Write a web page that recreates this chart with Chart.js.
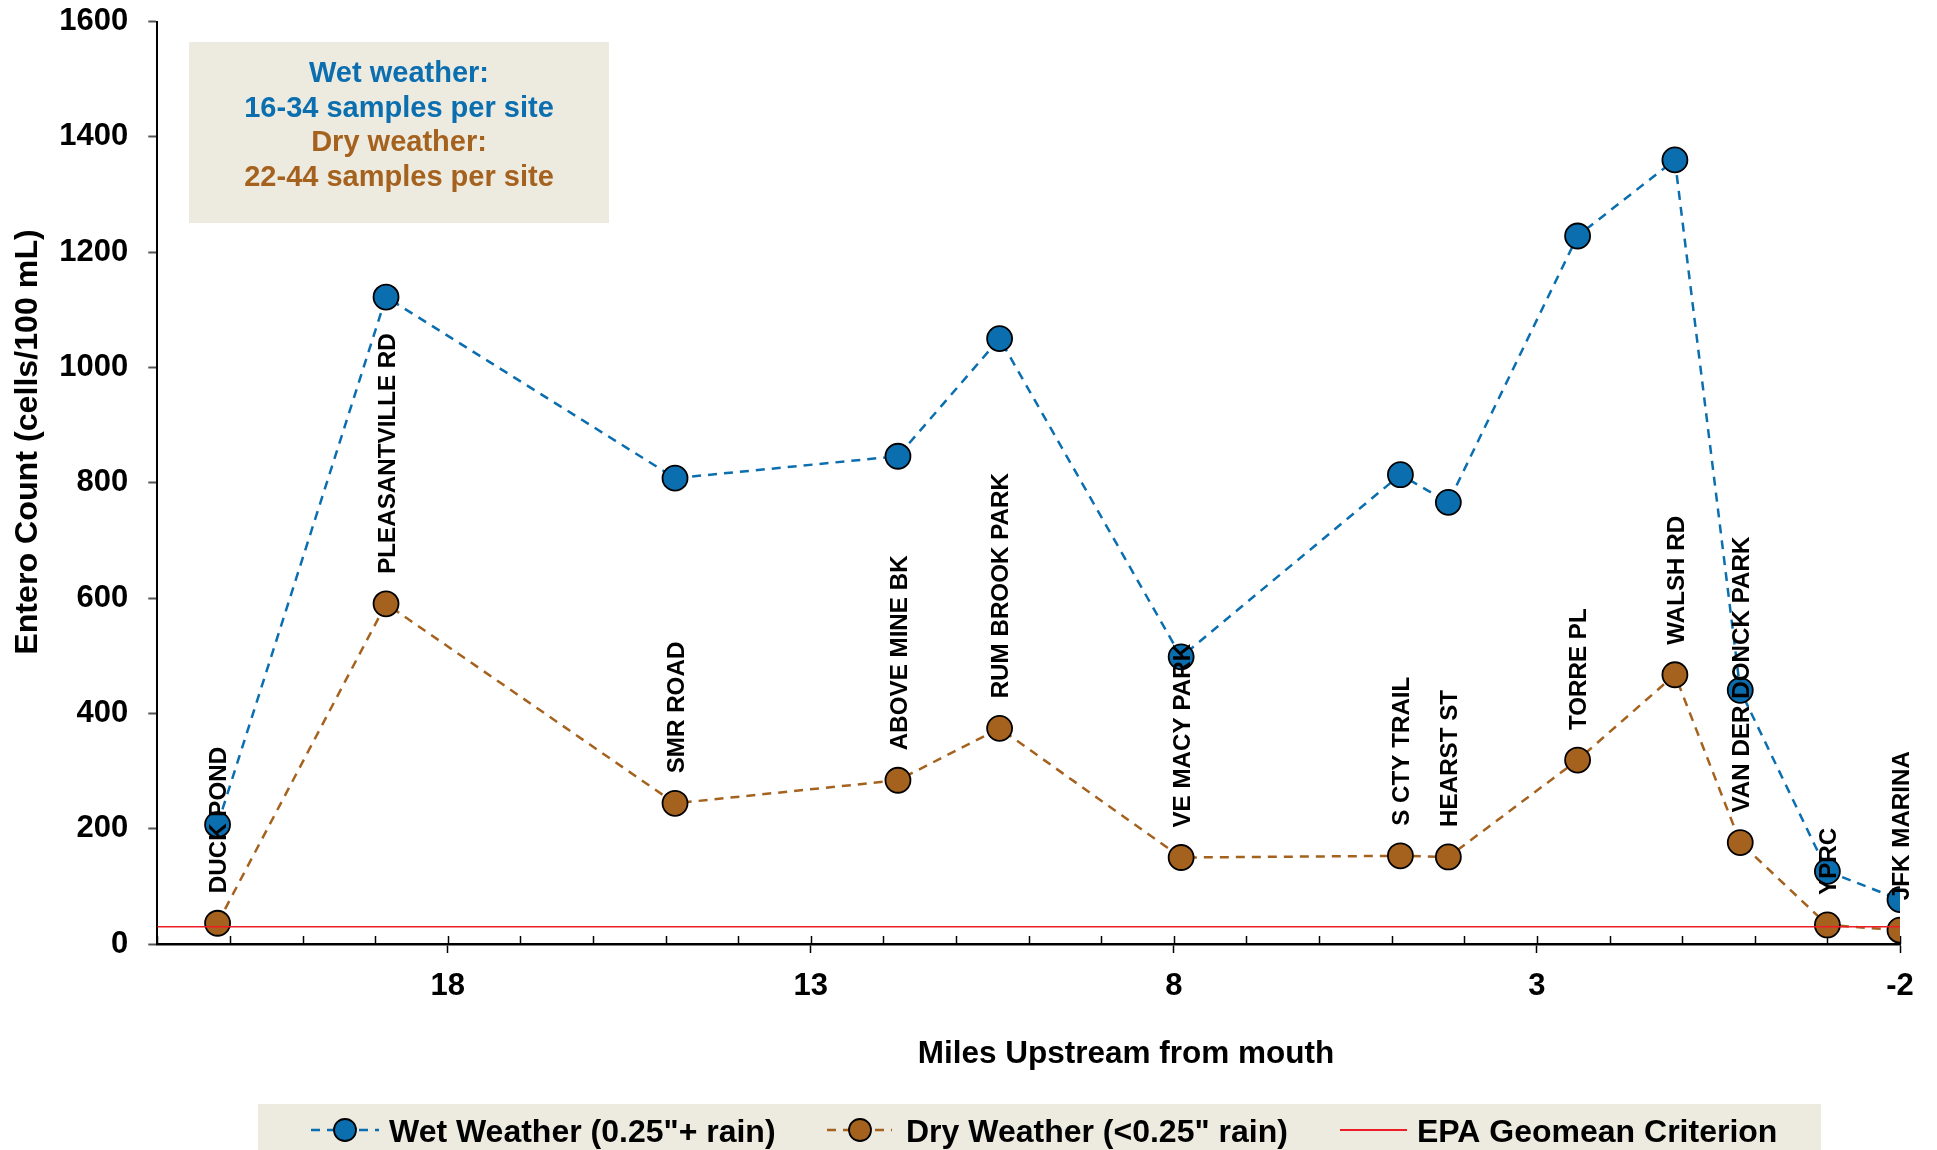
<!DOCTYPE html>
<html>
<head>
<meta charset="utf-8">
<script src="https://cdn.jsdelivr.net/npm/chart.js@4.4.1/dist/chart.umd.min.js"></script>
<style>
html,body{margin:0;padding:0;background:#ffffff;}
#wrap{width:1937px;height:1150px;position:relative;}
</style>
</head>
<body>
<div id="wrap"><canvas id="c"></canvas></div>
<script>
// ---------------- data ----------------
const siteNames = ['DUCK POND','PLEASANTVILLE RD','SMR ROAD','ABOVE MINE BK','RUM BROOK PARK','VE MACY PARK','S CTY TRAIL','HEARST ST','TORRE PL','WALSH RD','VAN DER DONCK PARK','YPRC','JFK MARINA'];
const siteMiles = [21.17, 18.85, 14.87, 11.8, 10.4, 7.9, 4.88, 4.22, 2.44, 1.1, 0.2, -1.0, -2.0];
const wetValues = [207, 1122, 808, 846, 1050, 498, 814, 766, 1228, 1360, 440, 126, 77];
const dryValues = [36, 590, 244, 284, 374, 150, 153, 151, 319, 467, 176, 33, 24];
const epaCriterion = 30;
const xMajorTicks = [18, 13, 8, 3, -2];
const xRange = [-2, 22];
const yRange = [0, 1600];
const yStep = 200;
const seriesLabels = ['Wet Weather (0.25"+ rain)', 'Dry Weather (<0.25" rain)', 'EPA Geomean Criterion'];
const noteLines = ['Wet weather:', '16-34 samples per site', 'Dry weather:', '22-44 samples per site'];
const xTitle = 'Miles Upstream from mouth';
const yTitle = 'Entero Count (cells/100 mL)';

// ---------------- styles ----------------
const FONT = "'Liberation Sans', Arial, Helvetica, sans-serif";
const BLUE = '#0B6EAF';
const BROWN = '#A5621E';
const RED = '#EE1C25';
const BEIGE = '#EDEAE0';

const wetPts = siteMiles.map((m, i) => ({x: m, y: wetValues[i]}));
const dryPts = siteMiles.map((m, i) => ({x: m, y: dryValues[i]}));
const epaPts = [{x: xRange[1], y: epaCriterion}, {x: xRange[0], y: epaCriterion}];

const overlay = {
  id: 'overlay',
  beforeDatasetsDraw(chart) {
    const ctx = chart.ctx;
    ctx.save();
    // note box
    ctx.fillStyle = BEIGE;
    ctx.fillRect(189, 42, 420, 181);
    ctx.font = `bold 29px ${FONT}`;
    ctx.textAlign = 'center';
    ctx.textBaseline = 'alphabetic';
    const ys = [82, 116.5, 151, 185.5];
    noteLines.forEach((t, i) => { ctx.fillStyle = i < 2 ? BLUE : BROWN; ctx.fillText(t, 399, ys[i]); });
    // inner minor / major ticks on x axis
    const xs = chart.scales.x;
    const bottom = chart.chartArea.bottom;
    ctx.strokeStyle = '#000';
    ctx.lineWidth = 1.5;
    for (let v = xRange[0]; v <= xRange[1]; v++) {
      const px = Math.round(xs.getPixelForValue(v)) + 0.5;
      ctx.beginPath(); ctx.moveTo(px, bottom - 8); ctx.lineTo(px, bottom); ctx.stroke();
    }
    ctx.restore();
  },
  afterDatasetsDraw(chart) {
    const ctx = chart.ctx;
    const xs = chart.scales.x, ys = chart.scales.y;
    const size = 24.2;
    ctx.save();
    ctx.font = `bold ${size}px ${FONT}`;
    ctx.fillStyle = '#000';
    ctx.textAlign = 'left';
    ctx.textBaseline = 'alphabetic';
    const cap = 0.716 * size;
    siteNames.forEach((name, i) => {
      const px = xs.getPixelForValue(siteMiles[i]);
      const py = ys.getPixelForValue(dryValues[i]) - 30;
      ctx.save();
      ctx.translate(px, py);
      ctx.rotate(-Math.PI / 2);
      ctx.fillText(name, 0, cap / 2);
      ctx.restore();
    });
    ctx.restore();
  },
  afterDraw(chart) {
    const ctx = chart.ctx;
    ctx.save();
    // axis titles
    ctx.fillStyle = '#000';
    ctx.font = `bold 31.5px ${FONT}`;
    ctx.textAlign = 'center';
    ctx.textBaseline = 'alphabetic';
    ctx.fillText(xTitle, 1126, 1063);
    ctx.save();
    ctx.translate(36.5, 442);
    ctx.rotate(-Math.PI / 2);
    ctx.font = `bold 32.2px ${FONT}`;
    ctx.fillText(yTitle, 0, 0);
    ctx.restore();
    // legend
    ctx.fillStyle = BEIGE;
    ctx.fillRect(258, 1104, 1563, 46);
    const ly = 1130;
    const ds = chart.data.datasets;
    const items = [
      {x0: 311, x1: 379, cx: 345, tx: 389, ds: ds[0]},
      {x0: 827, x1: 892, cx: 860, tx: 906, ds: ds[1]},
      {x0: 1340, x1: 1407, cx: null, tx: 1417, ds: ds[2]}
    ];
    items.forEach(it => {
      ctx.save();
      ctx.strokeStyle = it.ds.borderColor;
      ctx.lineWidth = it.cx ? 2.5 : 2;
      ctx.setLineDash(it.ds.borderDash || []);
      ctx.beginPath(); ctx.moveTo(it.x0, ly); ctx.lineTo(it.x1, ly); ctx.stroke();
      ctx.setLineDash([]);
      if (it.cx) {
        ctx.beginPath(); ctx.arc(it.cx, ly, 11, 0, Math.PI * 2);
        ctx.fillStyle = it.ds.pointBackgroundColor; ctx.fill();
        ctx.lineWidth = 1.8; ctx.strokeStyle = '#000'; ctx.stroke();
      }
      ctx.fillStyle = '#000';
      ctx.font = `bold 32px ${FONT}`;
      ctx.textAlign = 'left';
      ctx.textBaseline = 'alphabetic';
      ctx.fillText(it.ds.label, it.tx, 1141.5);
      ctx.restore();
    });
    ctx.restore();
  }
};

new Chart(document.getElementById('c'), {
  type: 'line',
  data: {
    datasets: [
      {label: seriesLabels[0], data: wetPts, borderColor: BLUE, borderWidth: 2.5, borderDash: [9, 7],
       pointBackgroundColor: BLUE, pointBorderColor: '#000', pointBorderWidth: 1.8, pointRadius: 12.5,
       pointHoverRadius: 12.5, fill: false, tension: 0, order: 2},
      {label: seriesLabels[1], data: dryPts, borderColor: BROWN, borderWidth: 2.5, borderDash: [9, 7],
       pointBackgroundColor: BROWN, pointBorderColor: '#000', pointBorderWidth: 1.8, pointRadius: 12.5,
       pointHoverRadius: 12.5, fill: false, tension: 0, order: 1},
      {label: seriesLabels[2], data: epaPts, borderColor: RED, borderWidth: 1.5, pointRadius: 0,
       fill: false, tension: 0, order: 0}
    ]
  },
  options: {
    responsive: true,
    maintainAspectRatio: false,
    animation: false,
    devicePixelRatio: 1,
    layout: {padding: {top: 21.5, right: 37, left: 0, bottom: 0}},
    plugins: {legend: {display: false}, tooltip: {enabled: false}, title: {display: false}},
    scales: {
      x: {
        type: 'linear', reverse: true, min: xRange[0], max: xRange[1],
        afterFit: s => { s.height = 206; s.paddingLeft = 0; s.paddingRight = 0; },
        ticks: {
          stepSize: 1, autoSkip: false, maxRotation: 0, padding: 14.5, color: '#000',
          font: {family: FONT, size: 31, weight: 'bold'},
          callback: v => xMajorTicks.includes(v) ? String(v) : ''
        },
        grid: {drawOnChartArea: false, drawTicks: true, tickLength: 9, tickWidth: 1.5,
               tickColor: c => (c.tick && xMajorTicks.includes(c.tick.value)) ? '#000' : 'rgba(0,0,0,0)'},
        border: {display: true, color: '#000', width: 2.5}
      },
      y: {
        min: yRange[0], max: yRange[1],
        afterFit: s => { s.width = 157.3; s.paddingTop = 0; s.paddingBottom = 0; },
        ticks: {stepSize: yStep, padding: 20, color: '#000', font: {family: FONT, size: 31, weight: 'bold'},
                callback: v => String(v)},
        grid: {drawOnChartArea: false, drawTicks: true, tickLength: 9, tickWidth: 2, tickColor: '#555'},
        border: {display: true, color: '#000', width: 2}
      }
    }
  },
  plugins: [overlay]
});
</script>
</body>
</html>
